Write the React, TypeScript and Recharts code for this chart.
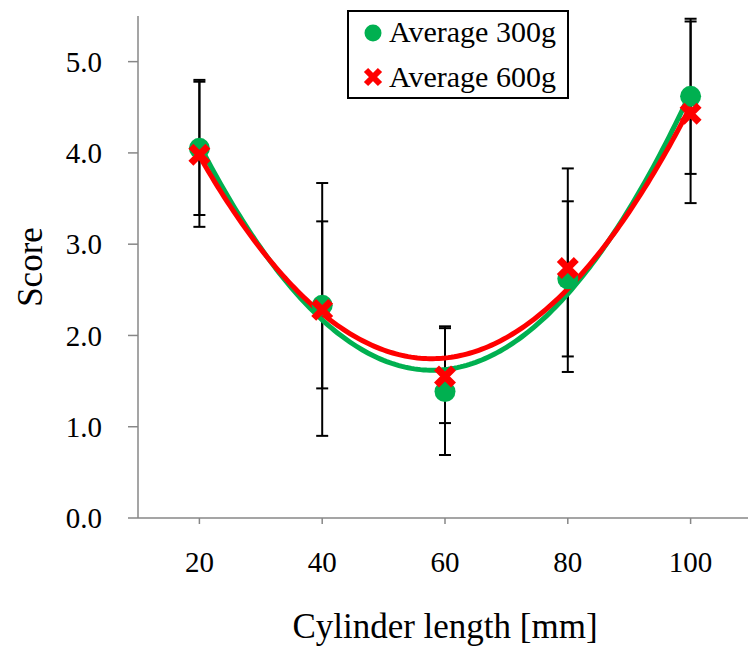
import React from 'react';
import { ComposedChart, Scatter, Line, XAxis, YAxis, ErrorBar, Legend } from 'recharts';

// ---- data ----
const lengths = [20, 40, 60, 80, 100];
const avg300 = [4.05, 2.33, 1.385, 2.62, 4.62];
const avg600 = [3.98, 2.28, 1.55, 2.74, 4.43];
const upper300 = [4.8, 3.25, 2.1, 3.47, 5.47];
const lower300 = [3.32, 1.42, 0.69, 1.77, 3.77];
const upper600 = [4.78, 3.67, 2.08, 3.83, 5.44];
const lower600 = [3.19, 0.9, 1.04, 1.6, 3.45];
const xTicks = [20, 40, 60, 80, 100];
const yTicks = [0, 1, 2, 3, 4, 5];
const seriesNames = ['Average 300g', 'Average 600g'];
const xTitle = 'Cylinder length [mm]';
const yTitle = 'Score';

const GREEN = '#00B050';
const RED = '#FF0000';
const AXIS = '#878787';
const FONT = '"Liberation Serif", "Times New Roman", serif';

// least-squares 2nd order polynomial trendline (like the spreadsheet trendline)
function fitQuadratic(xs: number[], ys: number[]) {
  const n = xs.length;
  const m = xs.reduce((s, v) => s + v, 0) / n;
  const t = xs.map((v) => v - m);
  const S = [0, 0, 0, 0, 0];
  const T = [0, 0, 0];
  t.forEach((tv, i) => {
    for (let k = 0; k < 5; k++) S[k] += Math.pow(tv, k);
    for (let k = 0; k < 3; k++) T[k] += Math.pow(tv, k) * ys[i];
  });
  const A = [
    [S[0], S[1], S[2], T[0]],
    [S[1], S[2], S[3], T[1]],
    [S[2], S[3], S[4], T[2]],
  ];
  for (let i = 0; i < 3; i++) {
    for (let j = i + 1; j < 3; j++) {
      const f = A[j][i] / A[i][i];
      for (let k = i; k < 4; k++) A[j][k] -= f * A[i][k];
    }
  }
  const c = [0, 0, 0];
  for (let i = 2; i >= 0; i--) {
    let s = A[i][3];
    for (let k = i + 1; k < 3; k++) s -= A[i][k] * c[k];
    c[i] = s / A[i][i];
  }
  return (x: number) => c[0] + c[1] * (x - m) + c[2] * (x - m) * (x - m);
}

function trend(xs: number[], ys: number[]) {
  const f = fitQuadratic(xs, ys);
  const out: { x: number; y: number }[] = [];
  for (let x = xs[0]; x <= xs[xs.length - 1] + 1e-9; x += 0.5) out.push({ x, y: f(x) });
  return out;
}

const points = (ys: number[], lo: number[], hi: number[]) =>
  lengths.map((x, i) => ({ x, y: ys[i], err: [ys[i] - lo[i], hi[i] - ys[i]] }));

const data300 = points(avg300, lower300, upper300);
const data600 = points(avg600, lower600, upper600);
const trend300 = trend(lengths, avg300);
const trend600 = trend(lengths, avg600);

const Circle = (p: any) => <circle cx={p.cx} cy={p.cy} r={10.5} fill={GREEN} />;
const Cross = (p: any) => (
  <path
    d={`M${p.cx - 8.5},${p.cy - 8.5}L${p.cx + 8.5},${p.cy + 8.5}M${p.cx - 8.5},${p.cy + 8.5}L${p.cx + 8.5},${p.cy - 8.5}`}
    stroke={RED}
    strokeWidth={7}
    fill="none"
  />
);
const Nothing = () => <g />;

const LegendBox = () => (
  <svg width={222} height={89} style={{ display: 'block' }}>
    <rect x={1} y={1} width={220} height={87} fill="#fff" stroke="#000" strokeWidth={2} />
    <circle cx={26} cy={23} r={8.5} fill={GREEN} />
    <path d="M19,60L33,74M19,74L33,60" stroke={RED} strokeWidth={6} />
    <text x={42} y={32} fontFamily={FONT} fontSize={30} fill="#000">{seriesNames[0]}</text>
    <text x={42} y={77} fontFamily={FONT} fontSize={30} fill="#000">{seriesNames[1]}</text>
  </svg>
);

const YTitle = (props: any) => {
  const vb = props.viewBox || { y: 16, height: 502 };
  const cy = vb.y + vb.height / 2;
  return (
    <text x={42} y={cy} transform={`rotate(-90, 42, ${cy})`} textAnchor="middle" fontFamily={FONT} fontSize={35} fill="#000">
      {yTitle}
    </text>
  );
};

export default function App() {
  return (
    <div style={{ position: 'absolute', left: 0, top: 0, width: 748, height: 648, overflow: 'hidden', background: '#fff' }}>
      <ComposedChart width={760} height={648} margin={{ top: 16, right: 8, bottom: 0, left: 0 }}>
        <XAxis
          dataKey="x"
          type="number"
          domain={[10, 110]}
          ticks={xTicks}
          allowDataOverflow
          height={130}
          axisLine={{ stroke: AXIS, strokeWidth: 1.5 }}
          tickLine={{ stroke: AXIS, strokeWidth: 1.5 }}
          tickSize={6}
          tickMargin={27}
          tick={{ fill: '#000', fontSize: 29, fontFamily: FONT }}
          label={{ value: xTitle, position: 'insideBottom', offset: 10, fill: '#000', fontSize: 35, fontFamily: FONT }}
        />
        <YAxis
          type="number"
          domain={[0, 5.5]}
          ticks={yTicks}
          allowDataOverflow
          width={138}
          axisLine={{ stroke: AXIS, strokeWidth: 1.5 }}
          tickLine={{ stroke: AXIS, strokeWidth: 1.5 }}
          tickSize={10}
          tickMargin={26}
          tickFormatter={(v: number) => v.toFixed(1)}
          tick={{ fill: '#000', fontSize: 29, fontFamily: FONT }}
          label={<YTitle />}
        />
        <Legend
          layout="horizontal"
          verticalAlign="middle"
          align="center"
          content={() => <LegendBox />}
          wrapperStyle={{ left: 347, top: 10, width: 222, height: 89 }}
        />
        <Scatter data={data300} dataKey="y" shape={Nothing} isAnimationActive={false} legendType="none">
          <ErrorBar dataKey="err" direction="y" width={6} stroke="#000" strokeWidth={2} isAnimationActive={false} />
        </Scatter>
        <Scatter data={data600} dataKey="y" shape={Nothing} isAnimationActive={false} legendType="none">
          <ErrorBar dataKey="err" direction="y" width={6} stroke="#000" strokeWidth={2} isAnimationActive={false} />
        </Scatter>
        <Scatter data={data300} dataKey="y" shape={Circle} isAnimationActive={false} name={seriesNames[0]} />
        <Line data={trend300} dataKey="y" type="linear" stroke={GREEN} strokeWidth={5} dot={false} activeDot={false} isAnimationActive={false} legendType="none" />
        <Scatter data={data600} dataKey="y" shape={Cross} isAnimationActive={false} name={seriesNames[1]} />
        <Line data={trend600} dataKey="y" type="linear" stroke={RED} strokeWidth={5} dot={false} activeDot={false} isAnimationActive={false} legendType="none" />
      </ComposedChart>
    </div>
  );
}
